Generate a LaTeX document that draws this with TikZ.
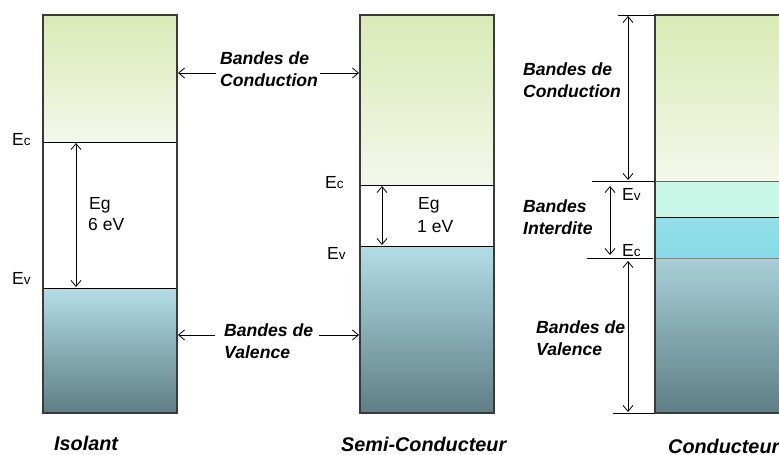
\documentclass[tikz,border=0pt]{standalone}
\usepackage{fontspec}
\setmainfont{Liberation Sans}
\usetikzlibrary{arrows.meta}
\definecolor{cbtop}{HTML}{DAEAB6}
\definecolor{cbbot}{HTML}{F3F7EA}
\definecolor{vbtop}{HTML}{B3DDE6}
\definecolor{vbbot}{HTML}{5F7E85}
\definecolor{frame}{HTML}{3A3A3A}
\definecolor{gapA}{HTML}{C8F7E8}
\definecolor{gapB}{HTML}{88DCE6}
\definecolor{vctop}{HTML}{A9CFD8}
\begin{document}
\begin{tikzpicture}[x=1pt,y=-1pt,
  lbl/.style={font=\fontsize{17.6}{22}\selectfont\bfseries\itshape, inner sep=0pt, anchor=base west},
  ttl/.style={font=\fontsize{19.8}{22}\selectfont\bfseries\itshape, inner sep=0pt, anchor=base west},
  enl/.style={font=\fontsize{17.5}{22}\selectfont, inner sep=0pt, anchor=base west},
  tip/.style={-{Straight Barb[length=6pt,width=10pt]}, line width=0.8pt},
  dimarrow/.style={{Straight Barb[length=6pt,width=10pt]}-{Straight Barb[length=6pt,width=10pt]}, line width=0.8pt},
  frm/.style={draw=frame, line width=1.5pt},
  sep/.style={draw=black, line width=1pt}]
\useasboundingbox (0,0) rectangle (779,455);
\clip (0,0) rectangle (779,455);
\newcommand{\Esub}[1]{E{\fontsize{13.5}{13.5}\selectfont #1}}

% ---------- Isolant ----------
\shade[top color=cbtop,bottom color=cbbot] (43,15) rectangle (177,142);
\shade[top color=vbtop,bottom color=vbbot] (43,288) rectangle (177,413);
\coordinate (iEc) at (43,142); \coordinate (iEcR) at (177,142);
\coordinate (iEv) at (43,288); \coordinate (iEvR) at (177,288);
\draw[sep] (iEc) -- (iEcR);
\draw[sep] (iEv) -- (iEvR);
\draw[frm] (43,15) rectangle (177,413);
\coordinate (iga) at (76,143); \coordinate (igb) at (76,287);
\draw[dimarrow] (iga) -- (igb);
\node[enl] (iEcl) at (12,145) {\Esub{c}};
\node[enl] (iEvl) at (12,284) {\Esub{v}};
\node[enl] (iEg) at (89,209) {Eg};
\node[enl] (iEgv) at (88,230) {6 eV};
\node[ttl] (tiso) at (54,450) {Isolant};

% ---------- Semi-conducteur ----------
\shade[top color=cbtop,bottom color=cbbot] (360,15) rectangle (494,185);
\shade[top color=vbtop,bottom color=vbbot] (360,246) rectangle (494,413);
\coordinate (sEc) at (360,185); \coordinate (sEcR) at (494,185);
\coordinate (sEv) at (360,246); \coordinate (sEvR) at (494,246);
\draw[sep] (sEc) -- (sEcR);
\draw[sep] (sEv) -- (sEvR);
\draw[frm] (360,15) rectangle (494,413);
\coordinate (sga) at (382,186); \coordinate (sgb) at (382,245);
\draw[dimarrow] (sga) -- (sgb);
\node[enl] (sEcl) at (325,188) {\Esub{c}};
\node[enl] (sEvl) at (327,259) {\Esub{v}};
\node[enl] (sEg) at (418,209) {Eg};
\node[enl] (sEgv) at (417,232) {1 eV};
\node[ttl] (tsemi) at (341,451) {Semi-Conducteur};

% shared labels between Isolant and Semi
\node[lbl] (bc1) at (220,64) {Bandes de};
\node[lbl] (bc2) at (220,86) {Conduction};
\coordinate (bcL) at (216,73); \coordinate (bcR) at (320,73);
\coordinate (iCB) at (178,73); \coordinate (sCB) at (359,73);
\draw[tip] (bcL) -- (iCB);
\draw[tip] (bcR) -- (sCB);
\node[lbl] (bv1) at (224,336) {Bandes de};
\node[lbl] (bv2) at (224,358) {Valence};
\coordinate (bvL) at (215,335); \coordinate (bvR) at (319,335);
\coordinate (iVB) at (178,335); \coordinate (sVB) at (359,335);
\draw[tip] (bvL) -- (iVB);
\draw[tip] (bvR) -- (sVB);

% ---------- Conducteur ----------
\shade[top color=cbtop,bottom color=cbbot] (655,15) rectangle (800,181);
\fill[gapA] (655,181) rectangle (800,217);
\shade[top color=gapB!92!white,bottom color=gapB] (655,217) rectangle (800,258);
\shade[top color=vctop,bottom color=vbbot] (655,258) rectangle (800,413);
\draw[draw=black!60, line width=0.6pt] (655,181) -- (800,181);
\draw[draw=black!50, line width=0.6pt] (655,258) -- (800,258);
\draw[sep] (655,217) -- (800,217);
\draw[frm] (800,15) -- (655,15) -- (655,413) -- (800,413);
\coordinate (cT) at (618,15); \coordinate (cTR) at (655,15);
\coordinate (cEv) at (592,181); \coordinate (cEvR) at (655,181);
\coordinate (cEc) at (587,258); \coordinate (cEcR) at (653,258);
\coordinate (cB) at (613,413); \coordinate (cBR) at (655,413);
\draw[line width=1pt] (cT) -- (cTR);
\draw[line width=1pt] (cEv) -- (cEvR);
\draw[line width=1pt] (cEc) -- (cEcR);
\draw[line width=1pt] (cB) -- (cBR);
\coordinate (ca1) at (628,16); \coordinate (ca2) at (628,180);
\draw[dimarrow] (ca1) -- (ca2);
\coordinate (cg1) at (610,186); \coordinate (cg2) at (610,255);
\draw[dimarrow] (cg1) -- (cg2);
\coordinate (cv1) at (628,261); \coordinate (cv2) at (628,412);
\draw[dimarrow] (cv1) -- (cv2);
\node[enl] (cEvl) at (622,200) {\Esub{v}};
\node[enl] (cEcl) at (622,256) {\Esub{c}};
\node[lbl] (cc1) at (523,75) {Bandes de};
\node[lbl] (cc2) at (523,97) {Conduction};
\node[lbl] (ci1) at (523,212) {Bandes};
\node[lbl] (ci2) at (523,234) {Interdite};
\node[lbl] (cv1l) at (536,333) {Bandes de};
\node[lbl] (cv2l) at (536,355) {Valence};
\node[ttl] (tcond) at (668,453) {Conducteur};
\end{tikzpicture}
\end{document}
